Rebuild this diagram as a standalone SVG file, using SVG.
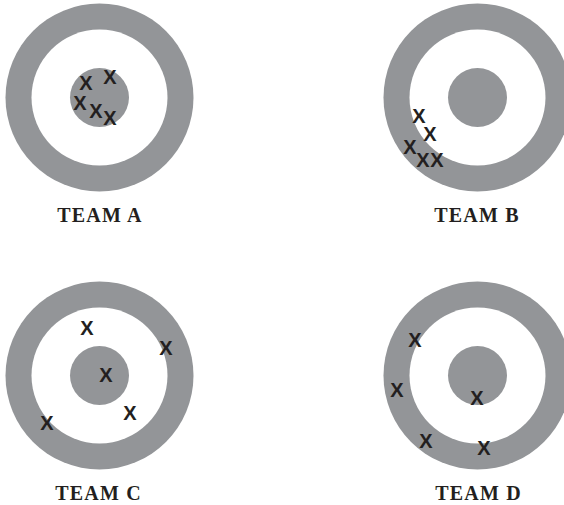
<svg xmlns="http://www.w3.org/2000/svg" width="564" height="505" viewBox="0 0 564 505">
<style>
.ring{fill:#939598}
.hole{fill:#ffffff}
.x{font-family:"Liberation Sans",Arial,sans-serif;font-weight:bold;font-size:20px;fill:#231f20;text-anchor:middle}
.lbl{font-family:"Liberation Serif","Times New Roman",serif;font-weight:bold;font-size:20px;letter-spacing:1.2px;fill:#231f20;text-anchor:middle}
</style>
<rect width="564" height="505" fill="#ffffff"/>
<g id="teamA">
<circle class="ring" cx="99.5" cy="97.5" r="94"/>
<circle class="hole" cx="99.5" cy="97.5" r="68"/>
<circle class="ring" cx="99.5" cy="97.5" r="29.5"/>
<text class="x" x="86" y="90">X</text>
<text class="x" x="110" y="84">X</text>
<text class="x" x="80" y="110">X</text>
<text class="x" x="96" y="118">X</text>
<text class="x" x="110" y="125">X</text>
<text class="lbl" x="100" y="222">TEAM A</text>
</g>
<g id="teamB">
<circle class="ring" cx="477.5" cy="97.5" r="94"/>
<circle class="hole" cx="477.5" cy="97.5" r="68"/>
<circle class="ring" cx="477.5" cy="97.5" r="29.5"/>
<text class="x" x="419" y="123">X</text>
<text class="x" x="430" y="141">X</text>
<text class="x" x="410" y="154">X</text>
<text class="x" x="423" y="167">X</text>
<text class="x" x="437" y="167">X</text>
<text class="lbl" x="477" y="222">TEAM B</text>
</g>
<g id="teamC">
<circle class="ring" cx="99.5" cy="375.5" r="94"/>
<circle class="hole" cx="99.5" cy="375.5" r="68"/>
<circle class="ring" cx="99.5" cy="375.5" r="29.5"/>
<text class="x" x="87" y="335">X</text>
<text class="x" x="166" y="355">X</text>
<text class="x" x="106" y="382">X</text>
<text class="x" x="47" y="430">X</text>
<text class="x" x="130" y="420">X</text>
<text class="lbl" x="98.5" y="500">TEAM C</text>
</g>
<g id="teamD">
<circle class="ring" cx="477.5" cy="375.5" r="94"/>
<circle class="hole" cx="477.5" cy="375.5" r="68"/>
<circle class="ring" cx="477.5" cy="375.5" r="29.5"/>
<text class="x" x="415" y="347">X</text>
<text class="x" x="397" y="397">X</text>
<text class="x" x="477" y="405">X</text>
<text class="x" x="426" y="448">X</text>
<text class="x" x="484" y="455">X</text>
<text class="lbl" x="478.5" y="500">TEAM D</text>
</g>
<g id="connectors"/>
</svg>
